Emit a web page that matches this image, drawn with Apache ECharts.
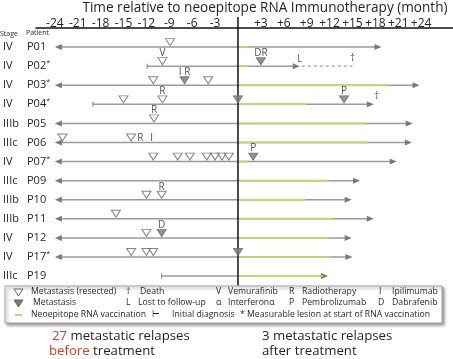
<!DOCTYPE html>
<html><head><meta charset="utf-8">
<script src="https://cdn.jsdelivr.net/npm/echarts@6/dist/echarts.min.js"></script>
<style>html,body{margin:0;padding:0;background:#fff}#c{width:453px;height:359px}</style>
</head><body><div id="c"></div>
<script>
// ---- data ----
const patients = ['P01','P02','P03','P04','P05','P06','P07','P09','P10','P11','P12','P17','P19'];
const measurable = [0,1,1,1,0,0,1,0,0,0,0,1,0];
const stages = ['IV','IV','IV','IV','IIIb','IIIc','IV','IIIc','IIIb','IIIb','IV','IV','IIIc'];
// timeline start (months); startKind: 0 = continues before (arrow), 1 = initial diagnosis
const startMonth = [-24,-11.9,-24,-19,-24,-24,-24,-24,-24,-24,-24,-24,-10];
const startKind  = [0,1,0,1,0,0,0,0,0,0,0,0,1];
const endMonth   = [18.8,8.1,23.8,17.8,22.9,22.8,20.8,16,14.9,17.8,14.9,15,11.8];
const vaccEnd    = [1.2,1.4,19.6,9,16.7,17,1.2,11.9,8.8,12.4,11.9,12,11.1];
const lostFollowEnd = [0,15,0,0,0,0,0,0,0,0,0,0,0];
const tickValues = [-24,-21,-18,-15,-12,-9,-6,-3,3,6,9,12,15,18,21,24];
const rowValues = [0,1,2,3,4,5,6,7,8,9,10,11,12];
// metastases [month, row]
const openMets = [[-8.9,0],[-9.9,1],[-11.1,2],[-3.9,2],[-15,3],[-9.9,3],[-11,4],[-23,5],[-14,5],
  [-11.1,6],[-7.9,6],[-6.3,6],[-4.1,6],[-3.0,6],[-2.1,6],[-1.2,6],[-12,8],[-10,8],[-16,9],[-12,10],
  [-14,11],[-12,11],[-11.1,11]];
const filledMets = [[3.0,1],[-7.0,2],[0,3],[13.9,3],[2.0,6],[-10,10],[0,11]];
// treatments shown above a mark [month,row,label]
const treatAbove = [[-9.9,1,'V'],[3.0,1,'DR'],[-7.0,2,'I R'],[-9.9,3,'R'],[13.9,3,'P'],[-11,4,'R'],[2.0,6,'P'],[-10,8,'R'],[-10,10,'D']];
const treatInline = [[-12.8,5,'R'],[-11.3,5,'I']];
const lostMarks = [[8.1,1,'L']];
const deathMarks = [[15,1,'†'],[18.2,3,'†']];

const GRAY='#9b9b9b', DARK='#7a7a7a', GREEN='#bdd77a', TXT='#231f20';
const FONT='"Open Sans", sans-serif';

const timelines = patients.map((p,i)=>[i,startMonth[i],endMonth[i],vaccEnd[i],lostFollowEnd[i],startKind[i]]);

const chart = echarts.init(document.getElementById('c'), null, {renderer:'canvas'});
const tri = 'path://M0,0 L10,0 L5,8 Z';

function renderTimeline(params, api){
  const row=api.value(0), s=api.value(1), e=api.value(2), g=api.value(3), f=api.value(4), k=api.value(5);
  const p0=api.coord([s,row]), p1=api.coord([e,row]), z=api.coord([0,row]), pg=api.coord([g,row]);
  const y=p0[1];
  const ch=[];
  ch.push({type:'line',shape:{x1:p0[0]+(k===0?5:0),y1:y,x2:p1[0]-5,y2:y},style:{stroke:GRAY,lineWidth:1.5}});
  if(k===0){
    ch.push({type:'polygon',shape:{points:[[p0[0],y],[p0[0]+7,y-3],[p0[0]+7,y+3]]},style:{fill:DARK}});
  } else {
    ch.push({type:'line',shape:{x1:p0[0],y1:y-2.5,x2:p0[0],y2:y+2.5},style:{stroke:DARK,lineWidth:1}});
  }
  ch.push({type:'polygon',shape:{points:[[p1[0],y],[p1[0]-7,y-3],[p1[0]-7,y+3]]},style:{fill:DARK}});
  ch.push({type:'line',shape:{x1:z[0],y1:y,x2:pg[0],y2:y},style:{stroke:GREEN,lineWidth:2}});
  if(f>e){
    const pf=api.coord([f,row]);
    ch.push({type:'line',shape:{x1:p1[0]+2,y1:y,x2:pf[0],y2:y},style:{stroke:GRAY,lineWidth:1.3,lineDash:[3,3]}});
  }
  return {type:'group',children:ch};
}

function labelSeries(data, offY, size){
  return {type:'scatter',data:data,symbolSize:0,silent:true,z:6,
    label:{show:true,position:'inside',offset:[0,offY],formatter:p=>p.data[2],
      color:TXT,fontSize:size,fontFamily:FONT}};
}

const legendTexts = [
  [31,292,'Metastasis (resected)'],[126,292,'†'],[140,292,'Death'],[216,292,'V'],[228,292,'Vemurafinib'],
  [289,292,'R'],[302,292,'Radiotherapy'],[379,292,'I'],[392,292,'Ipilimumab'],
  [33,303,'Metastasis'],[126,303,'L'],[138,303,'Lost to follow-up'],[216,303,'α'],[228,303,'Interferonα'],
  [289,303,'P'],[302,303,'Pembrolizumab'],[378,303,'D'],[392,303,'Dabrafenib'],
  [31,315,'Neoepitope RNA vaccination'],[152,315,'⊢'],[172,315,'Initial diagnosis'],
  [240,315,'* Measurable lesion at start of RNA vaccination']
];

const graphics = [
  {type:'text',x:265,y:8.5,style:{text:'Time relative to neoepitope RNA Immunotherapy (month)',fontSize:13.6,
    fill:TXT,fontFamily:FONT,align:'center',verticalAlign:'middle'}},
  {type:'text',left:0,top:30,style:{text:'Stage',fontSize:7,fill:TXT,fontFamily:FONT}},
  {type:'text',left:26,top:29,style:{text:'Patient',fontSize:7,fill:TXT,fontFamily:FONT}},
  {type:'rect',shape:{x:5,y:286,width:437,height:37},style:{fill:'#fff',stroke:'#a0a0a0',lineWidth:1,
    shadowBlur:3,shadowOffsetX:2,shadowOffsetY:2,shadowColor:'rgba(0,0,0,0.4)'}},
  {type:'polygon',shape:{points:[[14,289],[23,289],[18.5,296]]},style:{fill:'#fff',stroke:'#666',lineWidth:1}},
  {type:'polygon',shape:{points:[[14,300],[23,300],[18.5,307]]},style:{fill:DARK,stroke:'#666',lineWidth:1}},
  {type:'line',shape:{x1:15,y1:315,x2:22,y2:315},style:{stroke:GREEN,lineWidth:2}},
  {type:'text',x:52,y:336,style:{text:'{r|27} metastatic relapses',fontSize:13.2,fill:TXT,fontFamily:FONT,verticalAlign:'middle',
    rich:{r:{fill:'#d0402c',fontSize:13.2,fontFamily:FONT}}}},
  {type:'text',x:49,y:351,style:{text:'{r|before} treatment',fontSize:13.2,fill:TXT,fontFamily:FONT,verticalAlign:'middle',
    rich:{r:{fill:'#d0402c',fontSize:13.2,fontFamily:FONT}}}},
  {type:'text',x:262,y:336,style:{text:'3 metastatic relapses',fontSize:13.2,fill:TXT,fontFamily:FONT,verticalAlign:'middle'}},
  {type:'text',x:262,y:351,style:{text:'after treatment',fontSize:13.2,fill:TXT,fontFamily:FONT,verticalAlign:'middle'}}
].concat(legendTexts.map(t=>({type:'text',x:t[0],y:t[1],z:10,style:{text:t[2],fontSize:8.7,fill:TXT,fontFamily:FONT,verticalAlign:'middle'}})));

chart.setOption({
  animation:false,
  grid:{left:36,right:0,top:28,bottom:73.4,containLabel:false},
  xAxis:{type:'value',position:'top',min:-26.47,max:28.18,
    axisLine:{show:true,onZero:false,lineStyle:{color:'#111',width:1.5}},
    axisTick:{show:false},splitLine:{show:false},
    axisLabel:{customValues:tickValues,margin:-2,fontSize:12,color:TXT,fontFamily:FONT,
      formatter:v=>v>0?'+'+v:String(v)}},
  yAxis:{type:'value',inverse:true,min:-1,max:12.5,
    axisLine:{show:false},axisTick:{show:false},splitLine:{show:false},
    axisLabel:{customValues:rowValues,align:'left',margin:33,fontSize:11,color:TXT,fontFamily:FONT,
      formatter:v=>'{s|'+stages[v]+'}{p|'+patients[v]+'}'+(measurable[v]?'{a|*}':''),
      rich:{s:{width:24,fontSize:11,color:TXT,fontFamily:FONT},p:{fontSize:11,color:TXT,fontFamily:FONT},
        a:{fontSize:7,color:TXT,fontFamily:FONT,verticalAlign:'top',padding:[0,0,6,0]}}}},
  graphic:graphics,
  series:[
    {type:'custom',data:timelines,renderItem:renderTimeline,encode:{x:[1,2],y:0},silent:true,z:2},
    {type:'custom',data:[[0]],silent:true,z:3,encode:{x:0},
      renderItem:(p,api)=>{const a=api.coord([0,-1.57]),b=api.coord([0,12.5]);
        return {type:'line',shape:{x1:a[0],y1:a[1],x2:b[0],y2:b[1]},style:{stroke:'#111',lineWidth:1.5}};}},
    {type:'scatter',data:openMets,symbol:tri,symbolSize:[9,7],symbolOffset:[0,-5],z:5,silent:true,
      itemStyle:{color:'#fff',borderColor:'#666',borderWidth:1}},
    {type:'scatter',data:filledMets,symbol:tri,symbolSize:[9,7],symbolOffset:[0,-5],z:5,silent:true,
      itemStyle:{color:DARK,borderColor:'#666',borderWidth:1}},
    labelSeries(treatAbove,-13,10),
    labelSeries(treatInline,-4,10),
    labelSeries(lostMarks,-7,10),
    labelSeries(deathMarks,-8,10)
  ]
});
</script></body></html>
